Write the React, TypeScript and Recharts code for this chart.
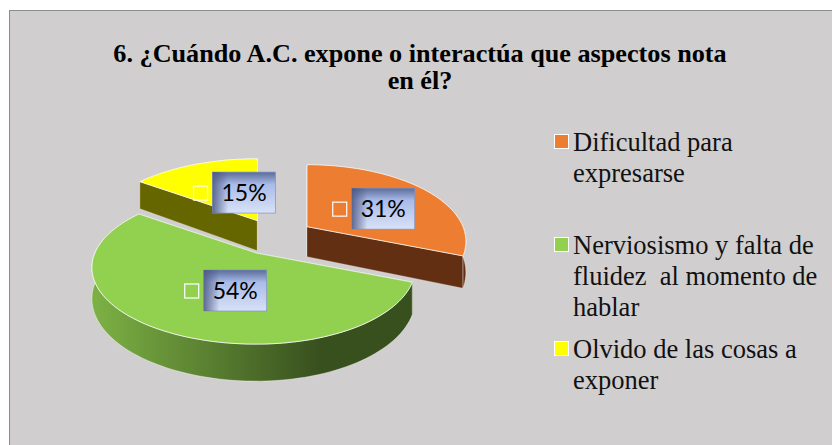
import React from 'react';
import { PieChart, Pie, Legend } from 'recharts';

const CATEGORIES = ['Dificultad para expresarse', 'Nerviosismo y falta de fluidez  al momento de hablar', 'Olvido de las cosas a exponer'];
const VALUES = [31, 54, 15];
const COLORS = ['#ed7d31', '#92d050', '#ffff00'];
const SIDE_COLORS = ['#622f12', 'url(#greenWall)', '#666600'];
const LEGEND_LINES = [
    ['Dificultad para', 'expresarse'],
    ['Nerviosismo y falta de', 'fluidez  al momento de', 'hablar'],
    ['Olvido de las cosas a', 'exponer'],
];
// yellow goes first and green last so the slices overlap like in the original
const DRAW_ORDER = [2, 0, 1];

const pieData = DRAW_ORDER.map(i => ({
    name: CATEGORIES[i],
    value: VALUES[i],
    fill: COLORS[i],
    side: SIDE_COLORS[i],
}));

const WIDTH = 832;
const HEIGHT = 445;
const CX = 270;
const CY = 232;
const RADIUS = 156;
const FLATTEN = 0.473; // vertical squash of the disc
const PERSPECTIVE = 0.19;
const LEFT_BULGE = 1.035; // the left side of the disc is a little wider
const EXPLODE = 0.248;
const DEPTH = 30;

type Pt = { x: number; y: number; v?: number; d?: number };

const rad = (deg: number) => (deg * Math.PI) / 180;

// apex of an exploded slice
const apexOf = (midAngle: number, cx: number, cy: number, r: number): Pt => ({
    x: cx + EXPLODE * r * Math.cos(rad(midAngle)),
    y: cy - EXPLODE * r * FLATTEN * Math.sin(rad(midAngle)),
    d: DEPTH,
});

// flat disc coordinates to screen, relative to the slice apex
const project = (apex: Pt, angle: number, r: number, dist = 1): Pt => {
    const u = dist * Math.cos(rad(angle));
    const v = dist * Math.sin(rad(angle));
    const p = 1 + PERSPECTIVE * v;
    return {
        x: apex.x + (r * (u < 0 ? u * LEFT_BULGE : u)) / p,
        y: apex.y - (r * FLATTEN * v) / p,
        v,
        d: DEPTH / p,
    };
};

const arcPoints = (apex: Pt, from: number, to: number, r: number) => {
    const steps = Math.max(2, Math.ceil(Math.abs(to - from) / 2));
    const pts: Pt[] = [];
    for (let i = 0; i <= steps; i++) {
        pts.push(project(apex, from + ((to - from) * i) / steps, r));
    }
    return pts;
};

const toPath = (pts: Pt[]) =>
    pts.map((p, i) => `${i ? 'L' : 'M'}${p.x.toFixed(1)},${p.y.toFixed(1)}`).join('') + 'Z';

const down = (p: Pt): Pt => ({ x: p.x, y: p.y + (p.d ?? DEPTH) });

const Slice3D = (props: any) => {
    const { cx, cy, outerRadius, startAngle, endAngle, fill, side } = props;
    const mid = (startAngle + endAngle) / 2;
    const apex = apexOf(mid, cx, cy, outerRadius);
    const rim = arcPoints(apex, startAngle, endAngle, outerRadius);
    const first = rim[0];
    const last = rim[rim.length - 1];

    // outer wall, only the part turned to the viewer
    const front = rim.filter(p => (p.v ?? 0) < 0.1);

    return (
        <g>
            {[first, last].map((p, i) => (
                <path
                    key={i}
                    d={toPath([apex, p, down(p), down(apex)])}
                    fill={side === 'url(#greenWall)' ? '#3a521f' : side}
                    stroke="#ffffff"
                    strokeOpacity={0.5}
                    strokeWidth={0.5}
                />
            ))}
            {front.length > 1 && (
                <path
                    d={toPath([...front, ...front.map(down).reverse()])}
                    fill={side}
                    stroke="#ffffff"
                    strokeOpacity={0.6}
                    strokeWidth={0.7}
                />
            )}
            <path d={toPath([apex, ...rim])} fill={fill} stroke="#ffffff" strokeOpacity={0.75} strokeWidth={1} />
        </g>
    );
};

const renderLabel = (props: any) => {
    const { cx, cy, outerRadius, midAngle, value } = props;
    const apex = apexOf(midAngle, cx, cy, outerRadius);
    const c = project(apex, midAngle, outerRadius, 0.47);
    const left = c.x + 9 - 41;
    // labels on the near half sit a bit lower
    const top = c.y + (Math.sin(rad(midAngle)) < 0 ? 5 : 1) - 21;
    return (
        <g>
            <rect x={left} y={top + 14} width={14} height={14} fill="none" stroke="#ffffff" strokeWidth={1.2} />
            <rect x={left + 19} y={top} width={63} height={41} fill="url(#boxV)" stroke="#7f93c4" strokeWidth={0.7} />
            <rect x={left + 19} y={top} width={63} height={41} fill="url(#boxH)" />
            <text x={left + 50.5} y={top + 28.5} textAnchor="middle" fontFamily="Lato, sans-serif" fontSize={23} fill="#000000">
                {value}%
            </text>
        </g>
    );
};

const LEGEND_TOPS = [134, 237, 341];

const renderLegend = () => (
    <div style={{ position: 'absolute', left: 0, top: 0, width: WIDTH, height: HEIGHT, pointerEvents: 'none' }}>
        {LEGEND_LINES.map((lines, i) => (
            <div key={CATEGORIES[i]}>
                <div
                    style={{
                        position: 'absolute',
                        left: 554,
                        top: LEGEND_TOPS[i],
                        width: 13,
                        height: 13,
                        background: COLORS[i],
                        border: '1px solid #ffffff',
                    }}
                />
                <div
                    style={{
                        position: 'absolute',
                        left: 573,
                        top: LEGEND_TOPS[i] - 7,
                        fontFamily: '"Liberation Serif", serif',
                        fontSize: 26.5,
                        lineHeight: '31px',
                        color: '#111111',
                        whiteSpace: 'pre',
                    }}
                >
                    {lines.join('\n')}
                </div>
            </div>
        ))}
    </div>
);

export default function App() {
    return (
        <div style={{ position: 'absolute', left: 0, top: 0, width: WIDTH, height: HEIGHT, background: '#ffffff', overflow: 'hidden' }}>
            <div
                style={{
                    position: 'absolute',
                    left: 9,
                    top: 10,
                    width: WIDTH + 10,
                    height: HEIGHT + 10,
                    background: '#d0cece',
                    border: '1px solid #8c8c8c',
                    boxSizing: 'border-box',
                }}
            />
            <div
                style={{
                    position: 'absolute',
                    left: 12,
                    width: 816,
                    top: 40,
                    textAlign: 'center',
                    fontFamily: '"Liberation Serif", serif',
                    fontWeight: 'bold',
                    fontSize: 26.2,
                    lineHeight: '27px',
                    color: '#000000',
                }}
            >
                6. ¿Cuándo A.C. expone o interactúa que aspectos nota
                <br />
                en él?
            </div>
            <PieChart width={WIDTH} height={HEIGHT} style={{ position: 'absolute', left: 0, top: 0 }}>
                <defs>
                    <linearGradient id="greenWall" gradientUnits="userSpaceOnUse" x1={95} y1={0} x2={320} y2={0}>
                        <stop offset="0%" stopColor="#7cb044" />
                        <stop offset="100%" stopColor="#38501e" />
                    </linearGradient>
                    <linearGradient id="boxV" x1="0" y1="0" x2="0" y2="1">
                        <stop offset="0%" stopColor="#5a6b98" />
                        <stop offset="30%" stopColor="#a9bbe8" />
                        <stop offset="100%" stopColor="#d8e1f7" />
                    </linearGradient>
                    <linearGradient id="boxH" x1="0" y1="0" x2="1" y2="0">
                        <stop offset="0%" stopColor="#4a5680" stopOpacity={0.85} />
                        <stop offset="25%" stopColor="#4a5680" stopOpacity={0} />
                    </linearGradient>
                </defs>
                <Pie
                    data={pieData}
                    dataKey="value"
                    nameKey="name"
                    cx={CX}
                    cy={CY}
                    outerRadius={RADIUS}
                    startAngle={144}
                    endAngle={-216}
                    paddingAngle={0}
                    shape={Slice3D}
                    label={renderLabel}
                    labelLine={false}
                    isAnimationActive={false}
                />
                <Legend content={renderLegend} wrapperStyle={{ position: 'absolute', left: 0, top: 0, width: WIDTH, height: HEIGHT }} />
            </PieChart>
        </div>
    );
}
